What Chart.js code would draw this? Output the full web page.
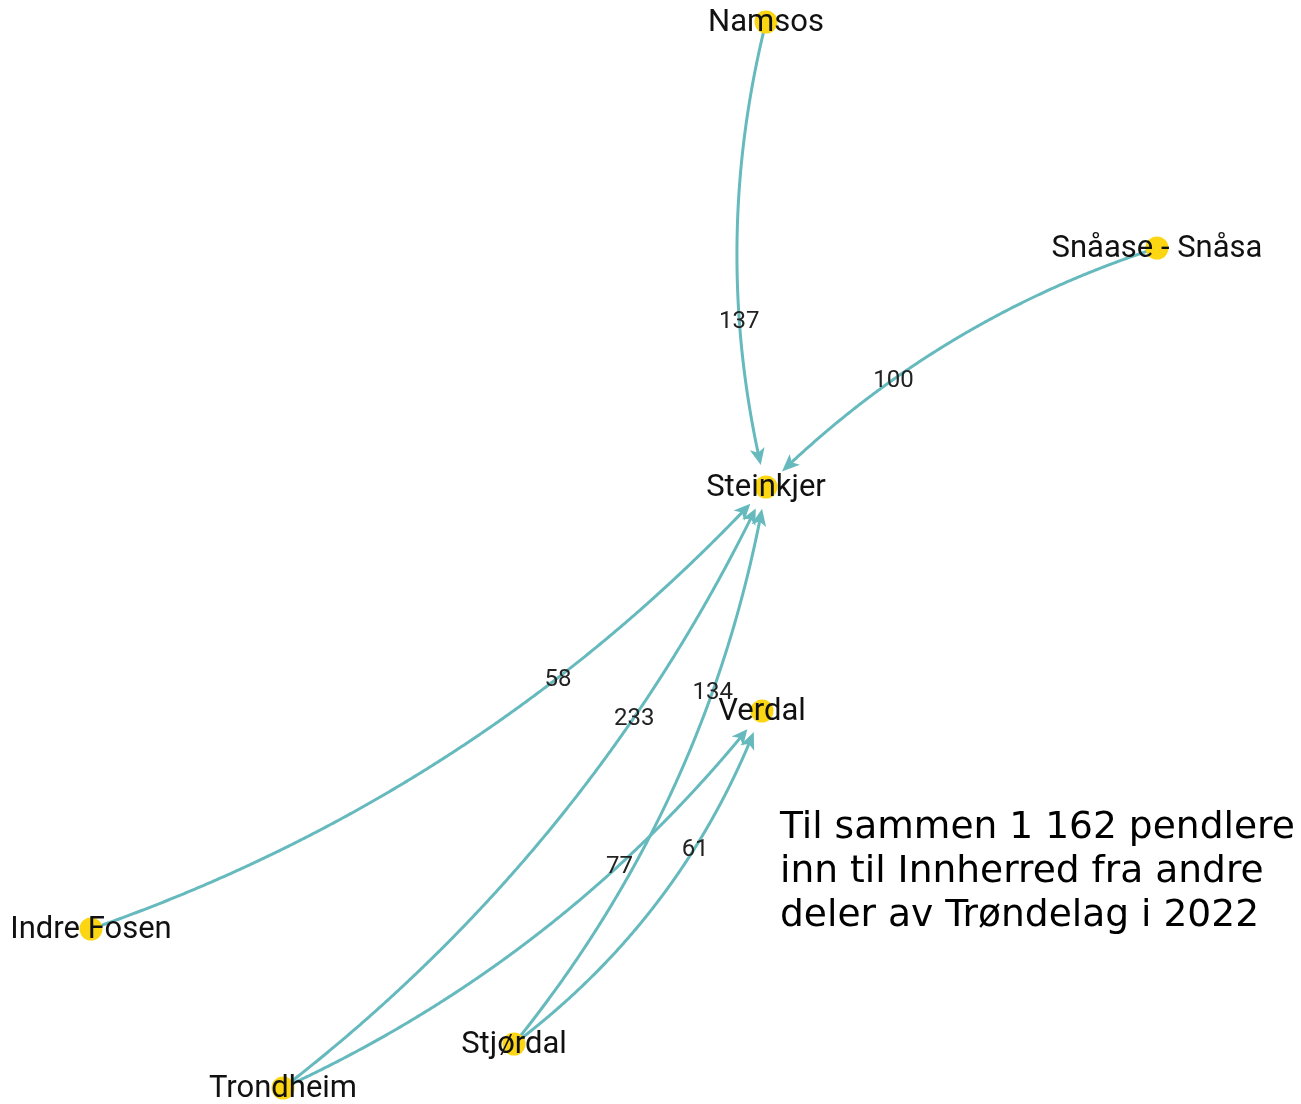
<!DOCTYPE html>
<html>
<head>
<meta charset="utf-8">
<script src="https://cdn.jsdelivr.net/npm/chart.js@4"></script>
<style>
  html,body{margin:0;padding:0;background:#fff;}
  #wrap{width:1301px;height:1104px;position:relative;}
</style>
</head>
<body>
<div id="wrap"><canvas id="c"></canvas></div>
<script>
// ---- data ----
const nodeNames = ['Namsos','Snåase - Snåsa','Steinkjer','Verdal','Indre Fosen','Stjørdal','Trondheim'];
const nodeX = [766,1157,766,762,91,514,283];
const nodeY = [22,248,487,711,929,1044,1088];
const edgeFrom = ['Namsos','Snåase - Snåsa','Indre Fosen','Trondheim','Stjørdal','Trondheim','Stjørdal'];
const edgeTo = ['Steinkjer','Steinkjer','Steinkjer','Steinkjer','Steinkjer','Verdal','Verdal'];
const edgeValue = [137,100,58,233,134,77,61];
const noteLines = ['Til sammen 1 162 pendlere','inn til Innherred fra andre','deler av Trøndelag i 2022'];

// ---- style ----
const edgeCurve = [0.125,0.12,0.125,0.12,0.13,0.12,0.146];
const labelT = [0.64,0.64,0.655,0.66,0.66,0.66,0.64];
const EDGE_COLOR = '#66babd';
const NODE_COLOR = '#fcd513';

function idx(n){ return nodeNames.indexOf(n); }

function edgeGeom(chart,i){
  const xs=chart.scales.x, ys=chart.scales.y;
  const a=idx(edgeFrom[i]), b=idx(edgeTo[i]);
  const p0={x:xs.getPixelForValue(nodeX[a]), y:ys.getPixelForValue(nodeY[a])};
  const p2={x:xs.getPixelForValue(nodeX[b]), y:ys.getPixelForValue(nodeY[b])};
  const dx=p2.x-p0.x, dy=p2.y-p0.y;
  const c=edgeCurve[i];
  const cp={x:(p0.x+p2.x)/2 - dy*c, y:(p0.y+p2.y)/2 + dx*c};
  return {p0,p2,cp};
}
function bez(g,t){
  const u=1-t;
  return {x:u*u*g.p0.x+2*u*t*g.cp.x+t*t*g.p2.x, y:u*u*g.p0.y+2*u*t*g.cp.y+t*t*g.p2.y};
}

const edgePlugin = {
  id:'edges',
  beforeDatasetsDraw(chart){
    const ctx=chart.ctx;
    const GAP=22, AL=17, AW=7.5;
    edgeValue.forEach((v,i)=>{
      const g=edgeGeom(chart,i);
      const N=400, pts=[];
      for(let k=0;k<=N;k++) pts.push(bez(g,k/N));
      const d=p=>Math.hypot(p.x-g.p2.x,p.y-g.p2.y);
      let tipI=N; while(tipI>0 && d(pts[tipI])<GAP) tipI--;
      let baseI=tipI; while(baseI>0 && d(pts[baseI])<GAP+AL) baseI--;
      const tip=pts[tipI], base=pts[baseI];
      ctx.save();
      ctx.strokeStyle=EDGE_COLOR; ctx.lineWidth=3; ctx.lineCap='round'; ctx.lineJoin='round';
      ctx.beginPath(); ctx.moveTo(pts[0].x,pts[0].y);
      for(let k=1;k<=baseI+3;k++) ctx.lineTo(pts[k].x,pts[k].y);
      ctx.stroke();
      const ux=(tip.x-base.x), uy=(tip.y-base.y), L=Math.hypot(ux,uy);
      const nx=ux/L, ny=uy/L;
      const px=-ny, py=nx;
      const notch={x:base.x+nx*AL*0.25, y:base.y+ny*AL*0.25};
      ctx.fillStyle=EDGE_COLOR;
      ctx.beginPath();
      ctx.moveTo(tip.x,tip.y);
      ctx.lineTo(base.x+px*AW, base.y+py*AW);
      ctx.lineTo(notch.x,notch.y);
      ctx.lineTo(base.x-px*AW, base.y-py*AW);
      ctx.closePath(); ctx.fill();
      ctx.restore();
    });
    // edge labels
    ctx.save();
    ctx.font='24px Roboto'; ctx.fillStyle='#222'; ctx.textAlign='center'; ctx.textBaseline='middle';
    edgeValue.forEach((v,i)=>{
      const g=edgeGeom(chart,i); const p=bez(g,labelT[i]);
      ctx.fillText(String(v),p.x,p.y+2);
    });
    ctx.restore();
  },
  afterDatasetsDraw(chart){
    const ctx=chart.ctx, xs=chart.scales.x, ys=chart.scales.y;
    ctx.save();
    ctx.font='31px Roboto'; ctx.fillStyle='#111'; ctx.textAlign='center'; ctx.textBaseline='middle';
    nodeNames.forEach((n,i)=>{
      ctx.fillText(n, xs.getPixelForValue(nodeX[i]), ys.getPixelForValue(nodeY[i])+1);
    });
    ctx.font='37.6px "DejaVu Sans"'; ctx.fillStyle='#000'; ctx.textAlign='left'; ctx.textBaseline='alphabetic';
    noteLines.forEach((s,k)=>{
      ctx.fillText(s, xs.getPixelForValue(780), ys.getPixelForValue(838+k*44));
    });
    ctx.restore();
  }
};

new Chart(document.getElementById('c'),{
  type:'scatter',
  data:{datasets:[{
    data:nodeNames.map((n,i)=>({x:nodeX[i],y:nodeY[i]})),
    pointRadius:11.5, pointHoverRadius:11.5, backgroundColor:NODE_COLOR, borderWidth:0, clip:false
  }]},
  options:{
    responsive:true, maintainAspectRatio:false, animation:false,
    layout:{padding:0, autoPadding:false},
    plugins:{legend:{display:false}, tooltip:{enabled:false}},
    scales:{
      x:{type:'linear',min:0,max:1301,display:false},
      y:{type:'linear',min:0,max:1104,reverse:true,display:false}
    }
  },
  plugins:[edgePlugin]
});
</script>
</body>
</html>
